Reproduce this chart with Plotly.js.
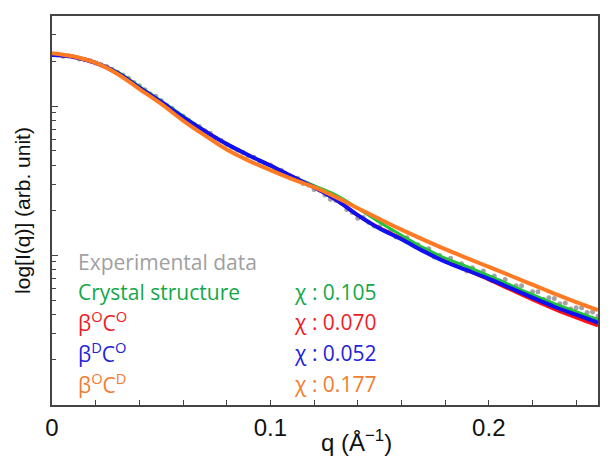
<!DOCTYPE html>
<html>
<head>
<meta charset="utf-8">
<script src="https://cdn.plot.ly/plotly-3.0.1.min.js"></script>
<style>html,body{margin:0;padding:0;background:#fff;}#chart{width:616px;height:468px;}</style>
</head>
<body>
<div id="chart"></div>
<script>
// q values (1/Å) for the model curves
var qFit = [0,0.01,0.02,0.03,0.04,0.05,0.06,0.07,0.08,0.09,0.10,0.11,0.12,0.13,0.14,0.15,0.16,0.17,0.18,0.19,0.20,0.21,0.22,0.23,0.24,0.25];
// log10 I(q) of each model (arb. unit)
var crystalLog = [1.342,1.329,1.289,1.228,1.131,1.034,0.933,0.835,0.745,0.670,0.601,0.527,0.466,0.403,0.315,0.221,0.134,0.050,-0.020,-0.077,-0.138,-0.201,-0.265,-0.326,-0.379,-0.433];
var bOcOLog = [1.342,1.329,1.289,1.221,1.124,1.027,0.926,0.832,0.745,0.670,0.601,0.527,0.456,0.372,0.268,0.181,0.114,0.034,-0.040,-0.101,-0.164,-0.232,-0.299,-0.362,-0.419,-0.473];
var bDcOLog = [1.342,1.329,1.289,1.221,1.124,1.027,0.926,0.832,0.745,0.670,0.601,0.527,0.456,0.372,0.268,0.178,0.107,0.027,-0.044,-0.101,-0.159,-0.221,-0.285,-0.346,-0.399,-0.453];
var bOcDLog = [1.354,1.332,1.289,1.215,1.114,1.014,0.903,0.803,0.708,0.634,0.570,0.510,0.456,0.389,0.315,0.242,0.171,0.104,0.040,-0.020,-0.079,-0.138,-0.198,-0.258,-0.315,-0.369];
// experimental data
var qExp = [0.0025,0.005,0.0075,0.01,0.0125,0.015,0.0175,0.02,0.0225,0.025,0.0275,0.03,0.0325,0.035,0.0375,0.04,0.0425,0.045,0.0475,0.05,
0.0525,0.055,0.0575,0.06,0.0625,0.065,0.0675,0.07,0.0725,0.075,0.0775,0.08,0.0825,0.085,0.0875,0.09,0.0925,0.095,0.0975,0.10,
0.1025,0.105,0.1075,0.11,0.1125,0.115,0.1175,0.12,0.1225,0.125,0.1275,0.13,0.1325,0.135,0.1375,0.14,0.1425,0.145,0.1475,0.15,
0.1525,0.155,0.1575,0.16,0.1625,0.165,0.1675,0.17,0.1725,0.175,0.1775,0.18,0.1825,0.185,0.1875,0.19,0.1925,0.195,0.1975,0.20,
0.2025,0.205,0.2075,0.21,0.2125,0.215,0.2175,0.22,0.2225,0.225,0.2275,0.23,0.2325,0.235,0.2375,0.24,0.2425,0.245,0.2475,0.25];
var expLog = [1.342,1.334,1.336,1.329,1.316,1.311,1.304,1.288,1.277,1.265,1.247,1.226,1.209,1.187,1.158,1.137,1.110,1.081,1.065,1.038,
1.006,0.986,0.951,0.933,0.905,0.878,0.863,0.835,0.818,0.786,0.769,0.743,0.723,0.705,0.689,0.666,0.656,0.629,0.617,0.605,
0.574,0.569,0.534,0.524,0.515,0.481,0.470,0.441,0.437,0.403,0.375,0.366,0.350,0.307,0.286,0.248,0.252,0.220,0.196,0.191,
0.162,0.166,0.121,0.120,0.117,0.069,0.069,0.035,0.043,-0.012,-0.002,-0.033,-0.021,-0.068,-0.058,-0.107,-0.085,-0.117,-0.106,-0.152,
-0.139,-0.174,-0.163,-0.218,-0.205,-0.205,-0.255,-0.246,-0.245,-0.295,-0.286,-0.290,-0.326,-0.321,-0.361,-0.352,-0.352,-0.384,-0.382,-0.410];

var labels = ['Experimental data','Crystal structure','β<sup>O</sup>C<sup>O</sup>','β<sup>D</sup>C<sup>O</sup>','β<sup>O</sup>C<sup>D</sup>'];
var chiLabels = ['','χ : 0.105','χ : 0.070','χ : 0.052','χ : 0.177'];

function pow10(a){ return a.map(function(v){ return Math.pow(10, v); }); }

var cGray = '#a3a3a3', cGreen = '#1fc43a', cRed = '#ff1010', cBlue = '#1010f0', cOrange = '#ff7a22';
var tGray = '#a0a0a0', tGreen = '#13a84a', tRed = '#ee1c25', tBlue = '#2323d8', tOrange = '#f47c30';

var traces = [
  {x: qExp, y: pow10(expLog), mode: 'markers', marker: {color: cGray, size: 5}, name: labels[0]},
  {x: qFit, y: pow10(bOcOLog), mode: 'lines', line: {color: cRed, width: 3.5, shape: 'spline'}, name: 'βOCO'},
  {x: qFit, y: pow10(crystalLog), mode: 'lines', line: {color: cGreen, width: 3, shape: 'spline'}, name: labels[1]},
  {x: qFit, y: pow10(bDcOLog), mode: 'lines', line: {color: cBlue, width: 4, shape: 'spline'}, name: 'βDCO'},
  {x: qFit, y: pow10(bOcDLog), mode: 'lines', line: {color: cOrange, width: 4, shape: 'spline'}, name: 'βOCD'}
];

var textCols = [tGray, tGreen, tRed, tBlue, tOrange];
var rowY = [0.3676, 0.2905, 0.2134, 0.1337, 0.054];
var annots = [];
for (var i = 0; i < labels.length; i++) {
  annots.push({xref: 'paper', yref: 'paper', x: 0.044, y: rowY[i], xanchor: 'left', yanchor: 'middle',
    text: labels[i], showarrow: false, font: {family: 'Open Sans', size: 21, color: textCols[i]}});
  if (chiLabels[i]) {
    annots.push({xref: 'paper', yref: 'paper', x: 0.44, y: rowY[i], xanchor: 'left', yanchor: 'middle',
      text: chiLabels[i], showarrow: false, font: {family: 'Open Sans', size: 21, color: textCols[i]}});
  }
}
annots.push({xref: 'paper', yref: 'paper', x: 0.5586, y: -0.0925, xanchor: 'center', yanchor: 'middle',
  text: 'q (Å<sup>−1</sup>)', showarrow: false, font: {family: 'Liberation Sans', size: 24, color: '#111'}});

var layout = {
  width: 616, height: 468,
  margin: {l: 52, r: 18, t: 16, b: 63},
  paper_bgcolor: '#fff', plot_bgcolor: '#fff',
  showlegend: false,
  xaxis: {
    range: [0, 0.25], tick0: 0, dtick: 0.1,
    ticks: 'inside', ticklen: 5, tickwidth: 1.2, tickcolor: '#444',
    showline: true, mirror: true, linecolor: '#444', linewidth: 1.5,
    showgrid: false, zeroline: false,
    tickfont: {family: 'Liberation Sans', size: 24, color: '#111'},
    ticklabelstandoff: 0,
    minor: {dtick: 0.02, ticks: 'inside', ticklen: 5, tickwidth: 1.2, tickcolor: '#444', showgrid: false}
  },
  yaxis: {
    type: 'log', range: [-1.005, 1.604], dtick: 1,
    showticklabels: false,
    ticks: 'inside', ticklen: 6, tickwidth: 1.2, tickcolor: '#444',
    showline: true, mirror: true, linecolor: '#444', linewidth: 1.5,
    showgrid: false, zeroline: false,
    title: {text: 'log[I(q)] (arb. unit)', font: {family: 'Liberation Sans', size: 21, color: '#111'}, standoff: 14},
    minor: {dtick: 'D1', ticks: 'inside', ticklen: 4, tickwidth: 1.2, tickcolor: '#444', showgrid: false}
  },
  annotations: annots
};

Plotly.newPlot('chart', traces, layout, {displayModeBar: false});
</script>
</body>
</html>
